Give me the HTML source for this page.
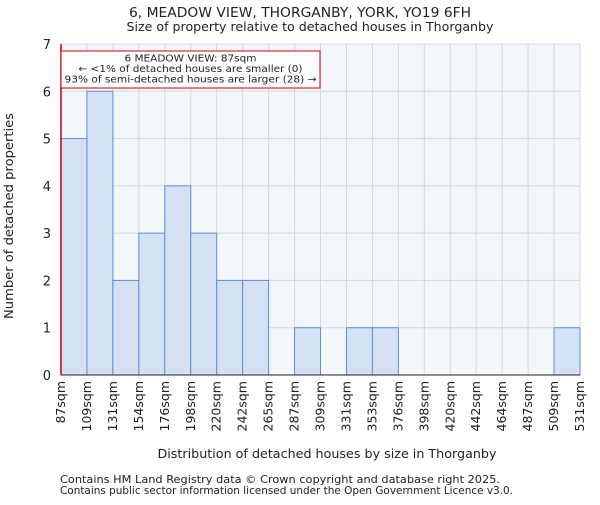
<!DOCTYPE html>
<html><head><meta charset="utf-8"><style>body{margin:0;background:#fff}svg text{font-family:"DejaVu Sans","Liberation Sans",sans-serif;fill:#222}</style></head>
<body>
<svg id="c" width="600" height="500" xmlns="http://www.w3.org/2000/svg">
<text x="300" y="17" text-anchor="middle" font-size="13" textLength="342" lengthAdjust="spacingAndGlyphs">6, MEADOW VIEW, THORGANBY, YORK, YO19 6FH</text>
<text x="310" y="31" text-anchor="middle" font-size="12.5" textLength="367" lengthAdjust="spacingAndGlyphs">Size of property relative to detached houses in Thorganby</text>
<rect x="61" y="44" width="519" height="331" fill="#f3f6fb"/>
<g id="grid"></g><g id="bars"></g><g id="axes"></g>
<text x="13" y="216" text-anchor="middle" font-size="12.5" textLength="206" lengthAdjust="spacingAndGlyphs" transform="rotate(-90 13 216)">Number of detached properties</text>
<text x="327" y="458" text-anchor="middle" font-size="12.5" textLength="339" lengthAdjust="spacingAndGlyphs">Distribution of detached houses by size in Thorganby</text>
<text x="60" y="483" font-size="10.5" textLength="440" lengthAdjust="spacingAndGlyphs">Contains HM Land Registry data © Crown copyright and database right 2025.</text>
<text x="60" y="494" font-size="10.5" textLength="453" lengthAdjust="spacingAndGlyphs">Contains public sector information licensed under the Open Government Licence v3.0.</text>
</svg>
<script>
const categories=["87sqm","109sqm","131sqm","154sqm","176sqm","198sqm","220sqm","242sqm","265sqm","287sqm","309sqm","331sqm","353sqm","376sqm","398sqm","420sqm","442sqm","464sqm","487sqm","509sqm","531sqm"];
const counts=[5,6,2,3,4,3,2,2,0,1,0,1,1,0,0,0,0,0,0,1];
const yTicks=[0,1,2,3,4,5,6,7];
const propertyValue=0;
const x0=61,x1=580,y0=375,y1=44,yMax=7,nb=counts.length;
const bw=(x1-x0)/nb;
const xs=i=>x0+i*bw, ys=v=>y0-(v/yMax)*(y0-y1);
const NS="http://www.w3.org/2000/svg";
function mk(t,a,p){const e=document.createElementNS(NS,t);for(const k in a)e.setAttribute(k,a[k]);p.appendChild(e);return e;}
const grid=document.getElementById('grid'),bars=document.getElementById('bars'),axes=document.getElementById('axes');
for(let i=0;i<=nb;i++){const l=mk('line',{x1:xs(i),x2:xs(i),y1:y1,y2:y0,stroke:'#d3d7df','stroke-width':1},grid);}
yTicks.forEach(v=>{const l=mk('line',{x1:x0,x2:x1,y1:ys(v),y2:ys(v),stroke:'#d3d7df','stroke-width':1},grid);
const t=mk('text',{x:x0-10,y:ys(v)+5,'text-anchor':'end','font-size':13},axes);t.textContent=v;});
counts.forEach((c,i)=>{if(!c)return;const r=mk('rect',{x:xs(i),y:ys(c),width:bw,height:y0-ys(c),fill:'#d4e0f3',stroke:'#5b8fd6','stroke-width':1},bars);});
categories.forEach((c,i)=>{const x=xs(i)+4,y=381;const t=mk('text',{x:x,y:y,'text-anchor':'end','font-size':12.5,transform:`rotate(-90 ${x} ${y})`},axes);t.textContent=c;});
const ax=mk('line',{x1:x0,x2:x1,y1:y0,y2:y0,stroke:'#222'},axes);
const ay=mk('line',{x1:x0,x2:x0,y1:y1,y2:y0,stroke:'#222'},axes);
const px=x0+(propertyValue)*bw;
const pm=mk('line',{x1:px,x2:px,y1:y1,y2:y0,stroke:'#c00','stroke-width':1.5},axes);
const box=mk('rect',{x:61,y:51,width:259,height:37,fill:'#fff',stroke:'#c00','stroke-width':1},axes);
const ann=["6 MEADOW VIEW: 87sqm","← <1% of detached houses are smaller (0)","93% of semi-detached houses are larger (28) →"];
const annW=[132,224,252];
ann.forEach((s,i)=>{const t=mk('text',{x:190.5,y:61.5+i*10.5,'text-anchor':'middle','font-size':10,textLength:annW[i],lengthAdjust:'spacingAndGlyphs'},axes);t.textContent=s;});
</script>
</body></html>
